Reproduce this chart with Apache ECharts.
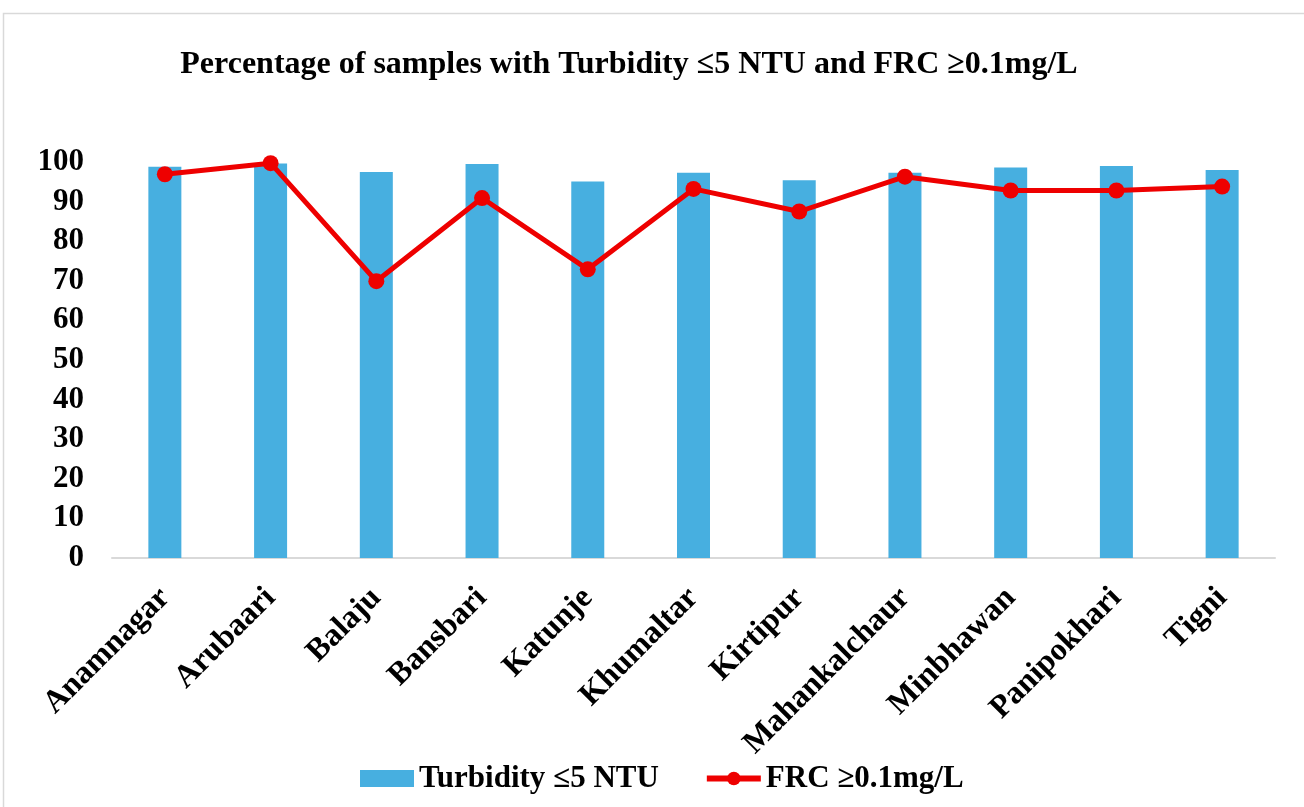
<!DOCTYPE html>
<html>
<head>
<meta charset="utf-8">
<script src="https://cdn.jsdelivr.net/npm/echarts@6/dist/echarts.min.js"></script>
<style>
  html, body { margin: 0; padding: 0; background: #fff; }
  #chart { width: 1304px; height: 807px; }
</style>
</head>
<body>
<div id="chart"></div>
<script>
// Sampling sites
const sites = ['Anamnagar', 'Arubaari', 'Balaju', 'Bansbari', 'Katunje', 'Khumaltar',
  'Kirtipur', 'Mahankalchaur', 'Minbhawan', 'Panipokhari', 'Tigni'];
// % of samples with turbidity ≤5 NTU
const turbidity = [98.8, 99.6, 97.5, 99.5, 95.1, 97.3, 95.4, 97.3, 98.6, 99.0, 98.0];
// % of samples with free residual chlorine ≥0.1 mg/L
const frc = [96.9, 99.7, 69.9, 90.9, 72.9, 93.2, 87.5, 96.3, 92.8, 92.8, 93.8];

const serif = '"Liberation Serif", "Times New Roman", serif';

const chart = echarts.init(document.getElementById('chart'));
chart.setOption({
  animation: false,
  backgroundColor: '#fff',
  graphic: [{
    type: 'rect',
    shape: { x: 3.5, y: 13.5, width: 1400, height: 900 },
    style: { fill: 'none', stroke: '#d9d9d9', lineWidth: 1.5 },
    silent: true, z: -10
  }],
  title: {
    text: 'Percentage of samples with Turbidity ≤5 NTU and FRC ≥0.1mg/L',
    left: 624, top: 44, textAlign: 'center',
    textStyle: { fontFamily: serif, fontWeight: 'bold', fontSize: 32, color: '#000' }
  },
  legend: {
    top: 758, left: 355,
    itemWidth: 54, itemHeight: 17, itemGap: 45,
    textStyle: { fontFamily: serif, fontWeight: 'bold', fontSize: 31, color: '#000' },
    data: [
      { name: 'Turbidity ≤5 NTU', icon: 'rect' },
      { name: 'FRC ≥0.1mg/L', lineStyle: { width: 6 } }
    ]
  },
  grid: { left: 112, right: 29, top: 162, bottom: 249, containLabel: false },
  xAxis: {
    type: 'category',
    data: sites,
    axisLine: { lineStyle: { color: '#d9d9d9', width: 2 } },
    axisTick: { show: false },
    axisLabel: {
      rotate: 45, interval: 0, margin: 35,
      fontFamily: serif, fontWeight: 'bold', fontSize: 32, color: '#000'
    }
  },
  yAxis: {
    type: 'value', min: 0, max: 100, interval: 10,
    axisLine: { show: false },
    axisTick: { show: false },
    splitLine: { show: false },
    axisLabel: {
      margin: 28,
      fontFamily: serif, fontWeight: 'bold', fontSize: 31, color: '#000'
    }
  },
  series: [
    {
      name: 'Turbidity ≤5 NTU',
      type: 'bar',
      data: turbidity,
      barWidth: 33,
      itemStyle: { color: '#47AFE0' }
    },
    {
      name: 'FRC ≥0.1mg/L',
      type: 'line',
      data: frc,
      symbol: 'circle', symbolSize: 16,
      lineStyle: { color: '#EE0000', width: 5 },
      itemStyle: { color: '#EE0000' }
    }
  ]
});
</script>
</body>
</html>
